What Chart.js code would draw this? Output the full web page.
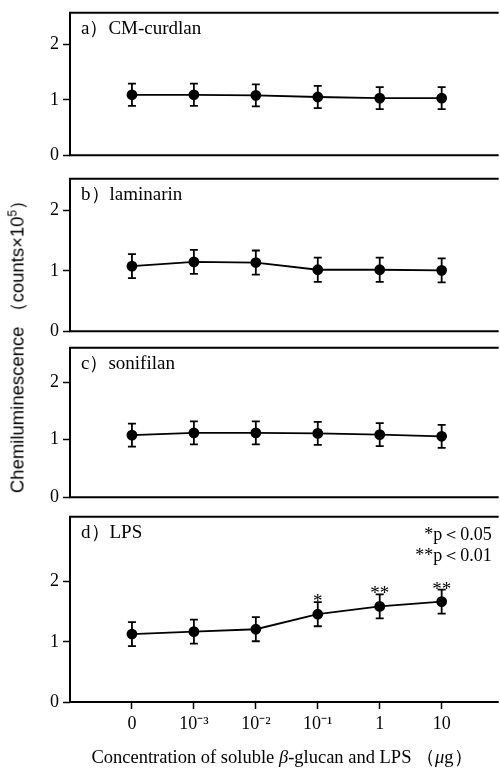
<!DOCTYPE html>
<html>
<head>
<meta charset="utf-8">
<script src="https://cdn.jsdelivr.net/npm/chart.js@4"></script>
<style>
  body { margin: 0; background: #fff; }
  #wrap { position: relative; width: 500px; height: 772px; overflow: hidden; background: #fff; }
  canvas { position: absolute; left: 0; }
  .ytitle {
    position: absolute; left: 17px; top: 342px;
    transform: translate(-50%, -50%) rotate(-90deg);
    white-space: nowrap; font: 18.5px "Liberation Sans", Arial, sans-serif; color: #000;
  }
  .xtitle {
    position: absolute; left: 282px; top: 756px;
    transform: translate(-50%, -50%);
    white-space: nowrap; font: 18.5px "Liberation Serif", "Times New Roman", serif; color: #000;
  }
</style>
</head>
<body>
<div id="wrap">
  <canvas id="chartA"></canvas>
  <canvas id="chartB"></canvas>
  <canvas id="chartC"></canvas>
  <canvas id="chartD"></canvas>
  <div class="ytitle">Chemiluminescence （counts×10<sup style="font-size:12px">5</sup>）</div>
  <div class="xtitle">Concentration of soluble <i>β</i>-glucan and LPS （<i>μ</i>g）</div>
</div>
<script>
const categories = ['0', '10⁻³', '10⁻²', '10⁻¹', '1', '10'];
const curdlanValues = [1.09, 1.09, 1.08, 1.05, 1.03, 1.03];
const curdlanErrors = [0.2, 0.2, 0.2, 0.2, 0.2, 0.2];
const laminarinValues = [1.08, 1.15, 1.14, 1.02, 1.02, 1.01];
const laminarinErrors = [0.2, 0.2, 0.2, 0.2, 0.2, 0.2];
const sonifilanValues = [1.08, 1.12, 1.12, 1.11, 1.09, 1.06];
const sonifilanErrors = [0.2, 0.2, 0.2, 0.2, 0.2, 0.2];
const lpsValues = [1.13, 1.17, 1.21, 1.46, 1.59, 1.67];
const lpsErrors = [0.2, 0.2, 0.2, 0.2, 0.2, 0.2];
const lpsMarks = ['', '', '', '*', '**', '**'];
const yTicks = [0, 1, 2];

const serif = '"Liberation Serif", "Times New Roman", serif';

// frame, error bars and labels
const extras = {
  id: 'extras',
  afterDatasetsDraw(chart, args, opts) {
    const ctx = chart.ctx;
    const a = chart.chartArea;
    const xs = chart.scales.x, ys = chart.scales.y;
    ctx.save();
    ctx.strokeStyle = '#000';
    ctx.lineWidth = 2;
    ctx.beginPath();
    ctx.moveTo(a.right + 5, a.top);
    ctx.lineTo(a.left, a.top);
    ctx.lineTo(a.left, a.bottom);
    ctx.lineTo(a.right + 5, a.bottom);
    ctx.stroke();

    ctx.lineWidth = 1.8;
    opts.values.forEach((v, i) => {
      const x = xs.getPixelForValue(i);
      const t = ys.getPixelForValue(v + opts.errors[i]);
      const b = ys.getPixelForValue(v - opts.errors[i]);
      ctx.beginPath();
      ctx.moveTo(x, t); ctx.lineTo(x, b);
      ctx.moveTo(x - 4, t); ctx.lineTo(x + 4, t);
      ctx.moveTo(x - 4, b); ctx.lineTo(x + 4, b);
      ctx.stroke();
      if (opts.marks && opts.marks[i]) {
        ctx.fillStyle = '#000';
        ctx.font = '19px ' + serif;
        ctx.textAlign = 'center';
        ctx.textBaseline = 'alphabetic';
        ctx.fillText(opts.marks[i], x, t + 5);
      }
    });

    ctx.fillStyle = '#000';
    ctx.font = '19px ' + serif;
    ctx.textAlign = 'left';
    ctx.textBaseline = 'middle';
    ctx.fillText(opts.label, a.left + 11, a.top + 16);
    if (opts.note) {
      ctx.font = '18px ' + serif;
      ctx.textAlign = 'right';
      ctx.fillText(opts.note[0], a.right - 2, a.top + 18);
      ctx.fillText(opts.note[1], a.right - 2, a.top + 39);
    }
    ctx.restore();
  }
};

function makePanel(id, top, height, label, values, errors, yMax, withX, marks, note) {
  const cv = document.getElementById(id);
  cv.style.top = top + 'px';
  cv.width = 500;
  cv.height = height;
  return new Chart(cv, {
    type: 'line',
    data: {
      datasets: [{
        data: values.map((v, i) => ({ x: i, y: v })),
        borderColor: '#000',
        borderWidth: 1.8,
        pointRadius: 4.5,
        pointBackgroundColor: '#000',
        pointBorderColor: '#000',
        tension: 0
      }]
    },
    options: {
      responsive: false,
      animation: false,
      clip: false,
      layout: { padding: { left: 0, right: 0, top: 12, bottom: 12 } },
      plugins: {
        legend: { display: false },
        tooltip: { enabled: false },
        extras: { label, values, errors, marks, note }
      },
      scales: {
        x: {
          type: 'linear',
          display: withX,
          min: -1,
          max: 5.84,
          afterBuildTicks: s => { s.ticks = categories.map((c, i) => ({ value: i })); },
          afterFit: s => { if (withX) s.height = 40; },
          grid: { drawOnChartArea: false, drawTicks: true, tickLength: 7, tickColor: '#000', tickWidth: 1.5 },
          border: { display: false },
          ticks: {
            color: '#000',
            padding: 4,
            maxRotation: 0,
            font: { family: serif, size: 18 },
            callback: v => categories[v]
          }
        },
        y: {
          min: 0,
          max: yMax,
          afterBuildTicks: s => { s.ticks = yTicks.map(v => ({ value: v })); },
          afterFit: s => { s.width = 70; },
          grid: { drawOnChartArea: false, drawTicks: true, tickLength: 7, tickColor: '#000', tickWidth: 1.5 },
          border: { display: false },
          ticks: {
            color: '#000',
            padding: 4,
            font: { family: serif, size: 18 }
          }
        }
      }
    },
    plugins: [extras]
  });
}

makePanel('chartA', -2, 172, 'a）CM-curdlan', curdlanValues, curdlanErrors, 2.57, false);
makePanel('chartB', 164, 182, 'b）laminarin', laminarinValues, laminarinErrors, 2.53, false);
makePanel('chartC', 333, 179, 'c）sonifilan', sonifilanValues, sonifilanErrors, 2.6, false);
makePanel('chartD', 502, 252, 'd）LPS', lpsValues, lpsErrors, 3.08, true, lpsMarks, ['*p＜0.05', '**p＜0.01']);
</script>
</body>
</html>
